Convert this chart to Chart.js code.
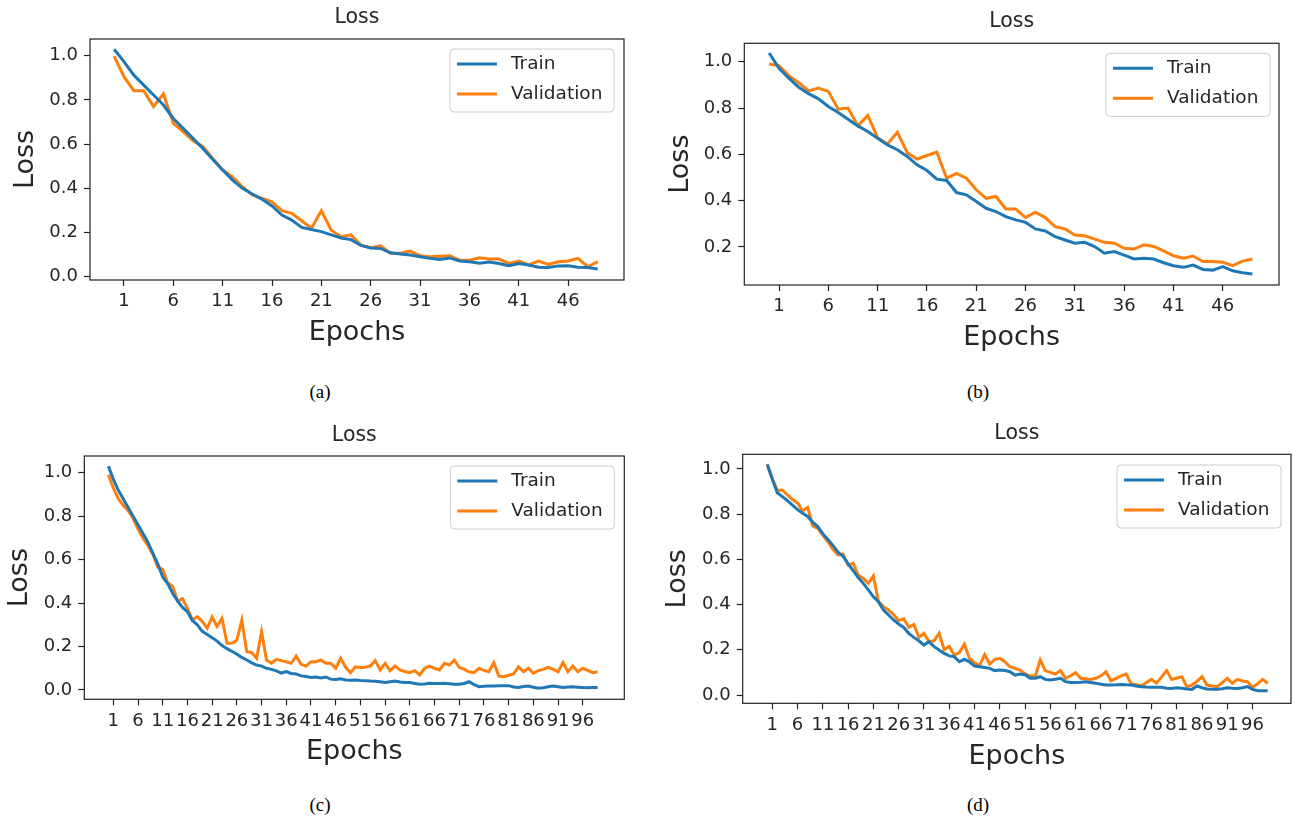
<!DOCTYPE html>
<html>
<head>
<meta charset="utf-8">
<script src="https://cdn.jsdelivr.net/npm/chart.js@4.4.0/dist/chart.umd.min.js"></script>
<style>
  body { margin: 0; background: #fff; width: 1294px; height: 823px; position: relative; overflow: hidden; }
  .panel { position: absolute; }
  .cap { position: absolute; font-family: "Liberation Serif", "Times New Roman", serif; font-size: 19px; color: #000; transform: translate(-50%, -50%); }
</style>
</head>
<body>
<div class="panel" style="left:0;top:0;width:645px;height:360px"><canvas id="ca"></canvas></div>
<div class="panel" style="left:645px;top:0;width:649px;height:365px"><canvas id="cb"></canvas></div>
<div class="panel" style="left:0;top:405px;width:645px;height:365px"><canvas id="cc"></canvas></div>
<div class="panel" style="left:645px;top:405px;width:649px;height:370px"><canvas id="cd"></canvas></div>
<div class="cap" style="left:320px;top:392px">(a)</div>
<div class="cap" style="left:978px;top:392px">(b)</div>
<div class="cap" style="left:320px;top:805px">(c)</div>
<div class="cap" style="left:978px;top:805px">(d)</div>
<script>
// epochs are plotted from 0, ticks labelled from 1 (step 5)
const epochs50 = Array.from({ length: 50 }, (_, i) => i);
const epochs100 = Array.from({ length: 100 }, (_, i) => i);
const xTicks50 = [1, 6, 11, 16, 21, 26, 31, 36, 41, 46];
const xTicks100 = [1, 6, 11, 16, 21, 26, 31, 36, 41, 46, 51, 56, 61, 66, 71, 76, 81, 86, 91, 96];
const yTicksFull = [0, 0.2, 0.4, 0.6, 0.8, 1.0];
const yTicksB = [0.2, 0.4, 0.6, 0.8, 1.0];

const trainA = [1.029, 0.973, 0.912, 0.867, 0.822, 0.777, 0.716, 0.671, 0.626, 0.58,
  0.53, 0.483, 0.437, 0.40, 0.374, 0.35, 0.32, 0.279, 0.256, 0.223,
  0.214, 0.204, 0.189, 0.175, 0.168, 0.142, 0.13, 0.128, 0.108, 0.103,
  0.098, 0.09, 0.083, 0.078, 0.085, 0.071, 0.068, 0.061, 0.067, 0.06,
  0.05, 0.06, 0.053, 0.043, 0.042, 0.049, 0.05, 0.043, 0.042, 0.035];
const valA = [0.998, 0.905, 0.842, 0.842, 0.77, 0.827, 0.694, 0.656, 0.615, 0.588,
  0.535, 0.483, 0.452, 0.407, 0.37, 0.354, 0.339, 0.299, 0.287, 0.253,
  0.219, 0.299, 0.21, 0.181, 0.189, 0.143, 0.131, 0.14, 0.106, 0.106,
  0.116, 0.095, 0.09, 0.093, 0.095, 0.075, 0.075, 0.086, 0.08, 0.08,
  0.06, 0.071, 0.053, 0.071, 0.056, 0.068, 0.071, 0.083, 0.045, 0.068];

const trainB = [1.038, 0.972, 0.929, 0.89, 0.862, 0.84, 0.807, 0.781, 0.752, 0.723,
  0.699, 0.67, 0.641, 0.62, 0.591, 0.555, 0.53, 0.493, 0.487, 0.435,
  0.425, 0.396, 0.367, 0.353, 0.331, 0.317, 0.306, 0.278, 0.269, 0.245,
  0.23, 0.216, 0.22, 0.202, 0.173, 0.18, 0.165, 0.148, 0.151, 0.148,
  0.132, 0.119, 0.112, 0.122, 0.103, 0.1, 0.115, 0.097, 0.089, 0.083];
const valB = [0.99, 0.983, 0.94, 0.91, 0.874, 0.886, 0.872, 0.795, 0.8, 0.723,
  0.768, 0.672, 0.645, 0.696, 0.607, 0.58, 0.595, 0.61, 0.497, 0.518,
  0.497, 0.447, 0.41, 0.418, 0.364, 0.364, 0.327, 0.35, 0.327, 0.288,
  0.278, 0.252, 0.248, 0.234, 0.22, 0.216, 0.194, 0.191, 0.209, 0.202,
  0.183, 0.162, 0.151, 0.161, 0.137, 0.137, 0.134, 0.119, 0.139, 0.148];

const trainC = [1.03, 0.97, 0.92, 0.88, 0.84, 0.80, 0.76, 0.72, 0.68, 0.63,
  0.58, 0.52, 0.49, 0.445, 0.41, 0.38, 0.36, 0.32, 0.30, 0.27,
  0.255, 0.24, 0.225, 0.205, 0.19, 0.178, 0.165, 0.15, 0.138, 0.125,
  0.115, 0.11, 0.1, 0.095, 0.088, 0.078, 0.085, 0.076, 0.074, 0.065,
  0.062, 0.058, 0.06, 0.055, 0.06, 0.05, 0.048, 0.052, 0.046, 0.045,
  0.046, 0.044, 0.043, 0.041, 0.04, 0.038, 0.035, 0.038, 0.041, 0.037,
  0.035, 0.034, 0.03, 0.026, 0.028, 0.031, 0.03, 0.03, 0.031, 0.029,
  0.027, 0.026, 0.03, 0.038, 0.025, 0.015, 0.017, 0.018, 0.018, 0.02,
  0.02, 0.02, 0.014, 0.012, 0.016, 0.018, 0.013, 0.008, 0.01, 0.015,
  0.018, 0.015, 0.012, 0.014, 0.015, 0.013, 0.011, 0.01, 0.012, 0.012];
const valC = [0.99, 0.93, 0.88, 0.85, 0.825, 0.79, 0.74, 0.70, 0.665, 0.625,
  0.565, 0.555, 0.493, 0.478, 0.41, 0.42, 0.376, 0.322, 0.337, 0.316,
  0.284, 0.336, 0.292, 0.33, 0.215, 0.215, 0.23, 0.322, 0.176, 0.172,
  0.146, 0.268, 0.138, 0.123, 0.141, 0.135, 0.13, 0.123, 0.156, 0.118,
  0.11, 0.13, 0.13, 0.138, 0.123, 0.123, 0.1, 0.146, 0.105, 0.08,
  0.107, 0.104, 0.105, 0.11, 0.135, 0.092, 0.123, 0.089, 0.11, 0.092,
  0.085, 0.08, 0.089, 0.069, 0.1, 0.11, 0.1, 0.092, 0.123, 0.115,
  0.138, 0.104, 0.095, 0.084, 0.08, 0.1, 0.09, 0.084, 0.126, 0.064,
  0.061, 0.068, 0.074, 0.107, 0.084, 0.1, 0.077, 0.089, 0.095, 0.104,
  0.095, 0.084, 0.126, 0.084, 0.11, 0.084, 0.1, 0.09, 0.08, 0.084];

const trainD = [1.02, 0.955, 0.895, 0.878, 0.86, 0.84, 0.82, 0.804, 0.79, 0.765,
  0.745, 0.714, 0.688, 0.662, 0.632, 0.614, 0.58, 0.55, 0.52, 0.494,
  0.465, 0.435, 0.413, 0.376, 0.354, 0.332, 0.314, 0.299, 0.273, 0.255,
  0.24, 0.221, 0.236, 0.214, 0.199, 0.184, 0.173, 0.17, 0.147, 0.158,
  0.147, 0.128, 0.125, 0.122, 0.118, 0.108, 0.111, 0.108, 0.103, 0.088,
  0.093, 0.09, 0.074, 0.074, 0.081, 0.069, 0.066, 0.07, 0.074, 0.059,
  0.055, 0.055, 0.056, 0.059, 0.055, 0.052, 0.048, 0.044, 0.044, 0.045,
  0.047, 0.045, 0.044, 0.04, 0.037, 0.035, 0.034, 0.034, 0.034, 0.03,
  0.029, 0.032, 0.03, 0.027, 0.025, 0.04, 0.032, 0.027, 0.026, 0.025,
  0.028, 0.032, 0.03, 0.029, 0.032, 0.037, 0.025, 0.019, 0.019, 0.019];
const valD = [1.022, 0.959, 0.905, 0.907, 0.885, 0.865, 0.85, 0.815, 0.83, 0.748,
  0.737, 0.708, 0.678, 0.645, 0.62, 0.624, 0.575, 0.583, 0.531, 0.516,
  0.494, 0.527, 0.413, 0.391, 0.376, 0.356, 0.33, 0.337, 0.30, 0.312,
  0.255, 0.273, 0.236, 0.24, 0.273, 0.2, 0.215, 0.176, 0.188, 0.225,
  0.162, 0.143, 0.13, 0.179, 0.137, 0.158, 0.162, 0.147, 0.125, 0.118,
  0.11, 0.093, 0.085, 0.081, 0.155, 0.108, 0.1, 0.093, 0.108, 0.074,
  0.085, 0.099, 0.074, 0.072, 0.069, 0.074, 0.085, 0.103, 0.063, 0.074,
  0.085, 0.093, 0.049, 0.045, 0.04, 0.055, 0.069, 0.052, 0.08, 0.108,
  0.069, 0.075, 0.081, 0.037, 0.044, 0.06, 0.081, 0.044, 0.04, 0.037,
  0.055, 0.074, 0.052, 0.069, 0.062, 0.059, 0.034, 0.05, 0.069, 0.052];

const BLUE = '#1f77b4';
const ORANGE = '#ff7f0e';
const INK = '#262626';
Chart.defaults.font.family = '"DejaVu Sans", sans-serif';
Chart.defaults.color = INK;

// matplotlib-like frame (all four spines)
const frame = {
  id: 'frame',
  afterDraw(chart) {
    const { ctx, chartArea: a } = chart;
    ctx.save();
    ctx.strokeStyle = '#222';
    ctx.lineWidth = 1.2;
    ctx.strokeRect(a.left, a.top, a.right - a.left, a.bottom - a.top);
    ctx.restore();
  }
};

// legend box in the upper right corner of the axes
const boxLegend = {
  id: 'boxLegend',
  afterDatasetsDraw(chart, args, opts) {
    const { ctx, chartArea: a } = chart;
    const w = 164, h = 63;
    const x = a.right - opts.right - w;
    const y = a.top + opts.top;
    ctx.save();
    ctx.beginPath();
    ctx.roundRect(x, y, w, h, 4);
    ctx.fillStyle = 'rgba(255,255,255,0.8)';
    ctx.fill();
    ctx.strokeStyle = '#cccccc';
    ctx.lineWidth = 1;
    ctx.stroke();
    chart.data.datasets.forEach((ds, i) => {
      const ly = y + 15 + i * 30;
      ctx.strokeStyle = ds.borderColor;
      ctx.lineWidth = ds.borderWidth;
      ctx.beginPath();
      ctx.moveTo(x + 7, ly);
      ctx.lineTo(x + 47, ly);
      ctx.stroke();
      ctx.fillStyle = INK;
      ctx.font = '18.5px "DejaVu Sans"';
      ctx.textBaseline = 'middle';
      ctx.fillText(ds.label, x + 61, ly);
    });
    ctx.restore();
  }
};

function makeChart(id, p) {
  return new Chart(document.getElementById(id), {
    type: 'line',
    data: {
      labels: p.epochs,
      datasets: [
        { label: 'Train', data: p.train, borderColor: BLUE, borderWidth: 3, pointRadius: 0, tension: 0, fill: false },
        { label: 'Validation', data: p.val, borderColor: ORANGE, borderWidth: 3, pointRadius: 0, tension: 0, fill: false }
      ]
    },
    options: {
      responsive: true,
      maintainAspectRatio: false,
      animation: false,
      layout: { autoPadding: false, padding: { left: 0, right: p.padR, top: 0, bottom: 0 } },
      plugins: {
        legend: { display: false },
        tooltip: { enabled: false },
        title: { display: true, fullSize: false, text: 'Loss', color: INK, font: { size: 20.5, weight: 'normal' }, padding: p.titlePad },
        boxLegend: p.legend
      },
      scales: {
        x: {
          type: 'linear',
          min: p.xmin,
          max: p.xmax,
          afterBuildTicks: s => { s.ticks = p.xTicks.map(v => ({ value: v })); },
          afterFit: s => { s.height = p.xH; },
          ticks: { autoSkip: false, maxRotation: 0, minRotation: 0, padding: 5, color: INK, font: { size: 18 }, callback: v => String(v) },
          grid: { display: true, drawOnChartArea: false, drawTicks: true, tickLength: 6, tickWidth: 1.2, color: '#222' },
          border: { display: false },
          title: { display: true, text: 'Epochs', color: INK, font: { size: 27 }, padding: { top: 0, bottom: p.xTitlePad } }
        },
        y: {
          min: p.ymin,
          max: p.ymax,
          afterBuildTicks: s => { s.ticks = p.yTicks.map(v => ({ value: v })); },
          afterFit: s => { s.width = p.yW; },
          ticks: { padding: 6, color: INK, font: { size: 18 }, callback: v => v.toFixed(1) },
          grid: { display: true, drawOnChartArea: false, drawTicks: true, tickLength: 6, tickWidth: 1.2, color: '#222' },
          border: { display: false },
          title: { display: true, text: 'Loss', color: INK, font: { size: 27 }, padding: { top: p.yTitlePad, bottom: 0 } }
        }
      }
    },
    plugins: [frame, boxLegend]
  });
}

makeChart('ca', {
  epochs: epochs50, train: trainA, val: valA, xTicks: xTicks50, yTicks: yTicksFull,
  xmin: -2.44, xmax: 51.66, ymin: -0.0149, ymax: 1.0756,
  yW: 90, xH: 80, padR: 21,
  titlePad: { top: 5.7, bottom: 8.7 }, yTitlePad: 9.8, xTitlePad: 10.8,
  legend: { right: 10, top: 10 }
});
makeChart('cb', {
  epochs: epochs50, train: trainB, val: valB, xTicks: xTicks50, yTicks: yTicksB,
  xmin: -2.52, xmax: 51.7, ymin: 0.0357, ymax: 1.0797,
  yW: 99.3, xH: 80, padR: 15,
  titlePad: { top: 9.7, bottom: 9 }, yTitlePad: 19.8, xTitlePad: 10.8,
  legend: { right: 9, top: 10 }
});
makeChart('cc', {
  epochs: epochs100, train: trainC, val: valC, xTicks: xTicks100, yTicks: yTicksFull,
  xmin: -4.87, xmax: 104.4, ymin: -0.0428, ymax: 1.0766,
  yW: 84.3, xH: 70.7, padR: 20.7,
  titlePad: { top: 18.7, bottom: 7.7 }, yTitlePad: 3.8, xTitlePad: 1.8,
  legend: { right: 10, top: 10 }
});
makeChart('cd', {
  epochs: epochs100, train: trainD, val: valD, xTicks: xTicks100, yTicks: yTicksFull,
  xmin: -4.85, xmax: 103.6, ymin: -0.0367, ymax: 1.065,
  yW: 97.7, xH: 71.7, padR: 3,
  titlePad: { top: 16.7, bottom: 8 }, yTitlePad: 16.5, xTitlePad: 1.8,
  legend: { right: 10, top: 10.7 }
});
</script>
</body>
</html>
